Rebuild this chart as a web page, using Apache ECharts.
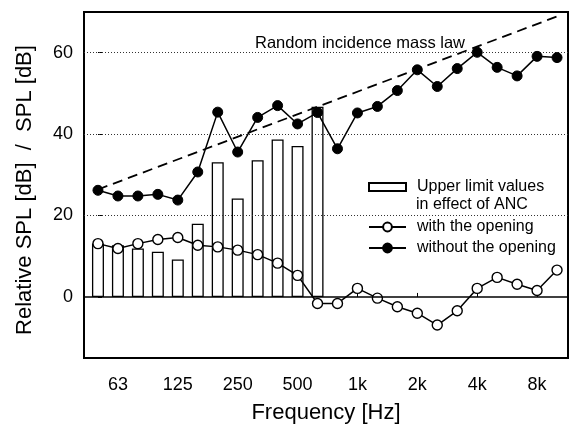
<!DOCTYPE html>
<html>
<head>
<meta charset="utf-8">
<script src="https://cdn.jsdelivr.net/npm/echarts@6/dist/echarts.min.js"></script>
<style>html,body{margin:0;padding:0;background:#fff;}#c{width:577px;height:429px;}</style>
</head>
<body>
<div id="c"></div>
<script>
// 1/3-octave band centre frequencies (index = position on x axis)
const bands = ['50','63','80','100','125','160','200','250','315','400','500','630','800','1k','1.25k','1.6k','2k','2.5k','3.15k','4k','5k','6.3k','8k','10k'];
const tickBands = [1, 4, 7, 10, 13, 16, 19, 22];
const tickLabels = ['63','125','250','500','1k','2k','4k','8k'];
const yTicks = [0, 20, 40, 60];

const withOpening = [13.1, 11.9, 13.1, 14.1, 14.6, 12.7, 12.3, 11.5, 10.4, 8.3, 5.3, -1.6, -1.6, 2.1, -0.3, -2.4, -4.0, -6.9, -3.4, 2.1, 4.8, 3.1, 1.6, 6.6];
const withoutOpening = [26.2, 24.8, 24.8, 25.2, 23.8, 30.7, 45.4, 35.6, 44.1, 47.0, 42.5, 45.3, 36.4, 45.2, 46.8, 50.7, 55.8, 51.7, 56.1, 60.1, 56.4, 54.3, 59.1, 58.8];
const upperLimit = [13.1, 12.7, 11.9, 11.1, 9.2, 18.0, 33.1, 24.2, 33.6, 38.7, 37.1, 46.7];
const massLawBands = [0, 23];
const massLawValues = [26.4, 68.9];

const FONT = 'Liberation Sans, Arial, Helvetica, sans-serif';
const pairs = (vals, start) => vals.map((v, i) => [(start || 0) + i, v]);

const chart = echarts.init(document.getElementById('c'), null, {renderer: 'canvas'});
chart.setOption({
  animation: false,
  backgroundColor: '#fff',
  textStyle: {fontFamily: FONT, color: '#000'},
  grid: {left: 84, right: 9, top: 12, bottom: 71, show: true, borderColor: '#000', borderWidth: 2, backgroundColor: 'transparent'},
  xAxis: {
    type: 'value', min: -0.7, max: 23.55,
    name: 'Frequency [Hz]', nameLocation: 'middle', nameGap: 44,
    nameTextStyle: {fontFamily: FONT, fontSize: 22, color: '#000'},
    axisLine: {show: false},
    axisTick: {show: true, inside: true, length: 4, customValues: tickBands, lineStyle: {color: '#000', width: 1}},
    axisLabel: {customValues: tickBands, margin: 18, fontFamily: FONT, fontSize: 18, color: '#000',
      formatter: v => tickLabels[tickBands.indexOf(Math.round(v))] || ''},
    splitLine: {show: false}
  },
  yAxis: {
    type: 'value', min: -15, max: 70,
    name: 'Relative SPL [dB]  /  SPL [dB]', nameLocation: 'middle', nameGap: 48,
    nameTextStyle: {fontFamily: FONT, fontSize: 22, color: '#000', padding: [0, 10, 0, 0]},
    axisLine: {show: false},
    axisTick: {show: true, inside: true, length: 4, customValues: yTicks, lineStyle: {color: '#000', width: 1}},
    axisLabel: {customValues: yTicks, margin: 11, fontFamily: FONT, fontSize: 18, color: '#000'},
    splitLine: {show: false}
  },
  legend: [
    {
      orient: 'vertical', left: 363, top: 174, itemWidth: 37, itemHeight: 8, itemGap: 5,
      data: [{name: 'Upper limit values in effect of ANC', icon: 'rect'}],
      formatter: () => 'Upper limit values',
      textStyle: {fontFamily: FONT, fontSize: 16, color: '#000', lineHeight: 16, padding: [0, 0, 0, 6]}
    },
    {
      orient: 'vertical', left: 363, top: 214, itemWidth: 37, itemHeight: 11, itemGap: 5,
      data: ['with the opening', 'without the opening'],
      textStyle: {fontFamily: FONT, fontSize: 16, color: '#000', lineHeight: 16, padding: [0, 0, 0, 6]}
    }
  ],
  graphic: [
    {type: 'text', left: 416, top: 197, style: {text: 'in effect of ANC', font: '16px ' + FONT, fill: '#000'}},
    {type: 'text', left: 255, top: 35, style: {text: 'Random incidence mass law', font: '16.5px ' + FONT, fill: '#000'}}
  ],
  series: [
    {
      name: 'gridlines', type: 'line', data: [], z: 1, silent: true,
      markLine: {
        silent: true, symbol: 'none', label: {show: false}, animation: false,
        data: [
          {yAxis: 20, lineStyle: {color: '#333', width: 1, type: [1, 2]}},
          {yAxis: 40, lineStyle: {color: '#333', width: 1, type: [1, 2]}},
          {yAxis: 60, lineStyle: {color: '#333', width: 1, type: [1, 2]}},
          {yAxis: 0, lineStyle: {color: '#000', width: 1.5, type: 'solid'}}
        ]
      }
    },
    {
      name: 'Upper limit values in effect of ANC', type: 'bar', z: 2,
      data: pairs(upperLimit), barWidth: 12,
      itemStyle: {color: '#fff', borderColor: '#000', borderWidth: 1.3}
    },
    {
      name: 'Random incidence mass law', type: 'line', z: 3,
      data: massLawBands.map((b, i) => [b, massLawValues[i]]),
      symbol: 'none', lineStyle: {color: '#000', width: 1.8, type: [10, 6]}
    },
    {
      name: 'with the opening', type: 'line', z: 4,
      data: pairs(withOpening), symbol: 'circle', symbolSize: 10,
      lineStyle: {color: '#000', width: 1.5},
      itemStyle: {color: '#fff', borderColor: '#000', borderWidth: 1.4}
    },
    {
      name: 'without the opening', type: 'line', z: 5,
      data: pairs(withoutOpening), symbol: 'circle', symbolSize: 10,
      lineStyle: {color: '#000', width: 1.5},
      itemStyle: {color: '#000', borderColor: '#000', borderWidth: 1}
    }
  ]
});
</script>
</body>
</html>
